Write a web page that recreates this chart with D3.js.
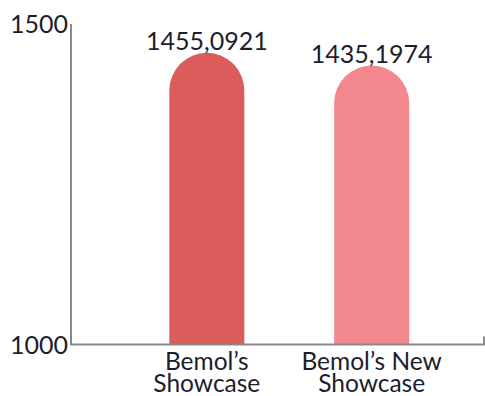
<!DOCTYPE html>
<html>
<head>
<meta charset="utf-8">
<script src="https://cdn.jsdelivr.net/npm/d3@7"></script>
<style>
  html, body { margin: 0; padding: 0; background: #fff; }
  svg { display: block; font-family: Lato, "Open Sans", sans-serif; }
</style>
</head>
<body>
<svg id="chart" width="485" height="396"></svg>
<script>
// Showcase totals
const categories = [["Bemol’s", "Showcase"], ["Bemol’s New", "Showcase"]];
const values = [1455.0921, 1435.1974];
const valueLabels = ["1455,0921", "1435,1974"];
const yTicks = [1000, 1500];
const colors = ["#DA5C5B", "#F3878E"];

const svg = d3.select("#chart");
const plotLeft = 71, plotRight = 484, plotTop = 24, plotBottom = 344.5;
const textColor = "#1b1e2c";

const y = d3.scaleLinear().domain([1000, 1500]).range([plotBottom, plotTop]);
const x = d3.scaleBand()
  .domain(categories.map((c, i) => i))
  .range([79.5, 499])
  .padding(0.545);

// bars with rounded caps
const bw = x.bandwidth();
const r = bw / 2;
svg.append("g").selectAll("path")
  .data(values)
  .join("path")
  .attr("fill", (d, i) => colors[i])
  .attr("d", (d, i) => {
    const x0 = x(i), yt = y(d);
    return `M${x0},${plotBottom} V${yt + r} A${r},${r} 0 0 1 ${x0 + bw},${yt + r} V${plotBottom} Z`;
  });

// value labels
svg.append("g").selectAll("text")
  .data(values)
  .join("text")
  .attr("x", (d, i) => x(i) + bw / 2)
  .attr("y", (d) => y(d) - 3)
  .attr("text-anchor", "middle")
  .attr("fill", textColor)
  .attr("font-size", 25)
  .text((d, i) => valueLabels[i]);

// axes
svg.append("path")
  .attr("d", `M${plotLeft},${plotTop} V${plotBottom} H${plotRight} V${plotBottom - 8}`)
  .attr("fill", "none")
  .attr("stroke", "#8a8a8a")
  .attr("stroke-width", 2);

svg.append("g").selectAll("text")
  .data(yTicks)
  .join("text")
  .attr("x", plotLeft - 3)
  .attr("y", (d) => y(d) + 9)
  .attr("text-anchor", "end")
  .attr("fill", textColor)
  .attr("font-size", 25)
  .text((d) => d);

// category labels (two lines)
const cat = svg.append("g").selectAll("text")
  .data(categories)
  .join("text")
  .attr("text-anchor", "middle")
  .attr("fill", textColor)
  .attr("font-size", 24.5);
cat.selectAll("tspan")
  .data((d, i) => d.map((line) => ({ line, i })))
  .join("tspan")
  .attr("x", (d) => x(d.i) + bw / 2)
  .attr("y", (d, j) => 370 + j * 21.7)
  .text((d) => d.line);
</script>
</body>
</html>
